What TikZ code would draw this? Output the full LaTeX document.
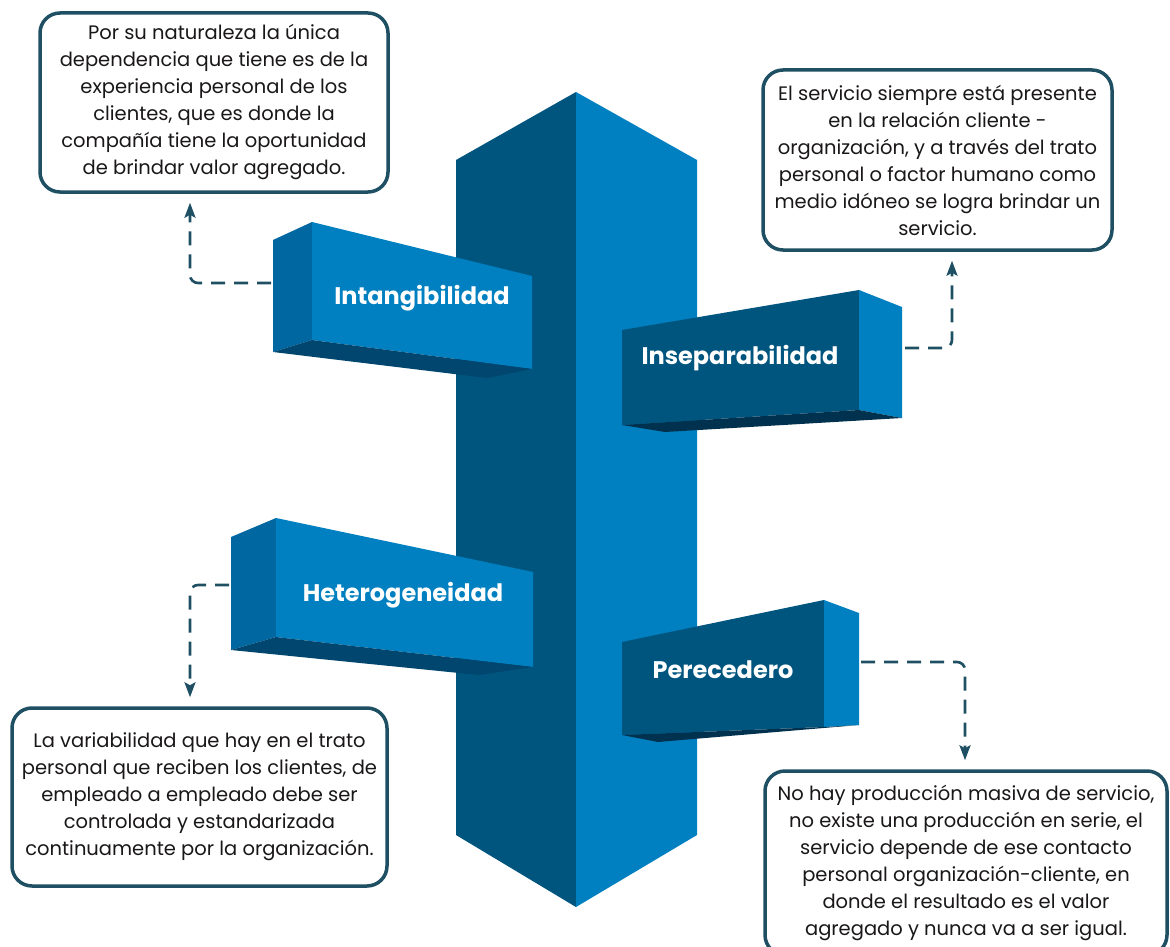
\documentclass[tikz,border=0pt]{standalone}
\usepackage{fontspec}
\setmainfont{Poppins}
\usepackage{tikz}
\usetikzlibrary{arrows.meta}

\definecolor{pilarOsc}{HTML}{00557F}
\definecolor{pilarClaro}{HTML}{0080C0}
\definecolor{ladoMedio}{HTML}{0067A0}
\definecolor{sombra}{HTML}{00466E}
\definecolor{sombraOsc}{HTML}{00324F}
\definecolor{borde}{HTML}{1E4F63}
\definecolor{texto}{HTML}{1A1718}

\begin{document}
\begin{tikzpicture}[x=1pt,y=-1pt,>={Stealth[length=15pt,width=11pt,inset=3pt]}]
\tikzstyle{caja}=[draw=borde,line width=3.5pt,rounded corners=20pt,fill=white,align=center,text=texto,inner sep=0pt,font=\fontsize{19.5}{27}\selectfont]
\tikzstyle{etiqueta}=[text=white,font=\fontsize{24}{28}\selectfont\bfseries]
\tikzstyle{enlace}=[draw=borde,line width=2.6pt,dash pattern=on 14pt off 9pt,rounded corners=8pt,->,shorten >=9pt]

\path[use as bounding box] (0,0) rectangle (1170,947);

% pilar central
\fill[pilarOsc] (456,160) -- (576,92) -- (576,907) -- (456,835) -- cycle;
\fill[pilarClaro] (576,92) -- (697,160) -- (697,835) -- (576,907) -- cycle;

% brazo Intangibilidad
\fill[ladoMedio] (273,240) -- (312,222) -- (312,340) -- (273,352) -- cycle;
\fill[pilarClaro] (312,222) -- (532,276) -- (532,369) -- (312,340) -- cycle;
\fill[sombra] (273,352) -- (312,340) -- (532,369) -- (487,378) -- cycle;

% brazo Inseparabilidad
\fill[pilarOsc] (622,330) -- (859,290) -- (859,410) -- (622,425) -- cycle;
\fill[pilarClaro] (859,290) -- (902,307) -- (902,418) -- (859,410) -- cycle;
\fill[sombraOsc] (622,425) -- (859,410) -- (902,418) -- (665,432) -- cycle;

% brazo Heterogeneidad
\fill[ladoMedio] (231,537) -- (276,518) -- (276,637) -- (231,650) -- cycle;
\fill[pilarClaro] (276,518) -- (533,572) -- (533,667) -- (276,637) -- cycle;
\fill[sombra] (231,650) -- (276,637) -- (533,667) -- (479,675) -- cycle;

% brazo Perecedero
\fill[pilarOsc] (622,642) -- (824,600) -- (824,727) -- (622,735) -- cycle;
\fill[pilarClaro] (824,600) -- (859,613) -- (859,725) -- (824,727) -- cycle;
\fill[sombraOsc] (622,735) -- (824,727) -- (859,725) -- (658,742) -- cycle;

\node[etiqueta] (intang) at (422,298) {Intangibilidad};
\node[etiqueta] (insep)  at (740,358) {Inseparabilidad};
\node[etiqueta] (hetero) at (403,595) {Heterogeneidad};
\node[etiqueta] (perece) at (723,670) {Perecedero};

\coordinate (intIzq) at (271,283);
\coordinate (insDer) at (905,348);
\coordinate (hetIzq) at (229,585);
\coordinate (perDer) at (861,662);

\node[caja,minimum width=348pt,minimum height=179pt] (cajaInt) at (214,102.5)
  {Por su naturaleza la única\\dependencia que tiene es de la\\experiencia personal de los\\clientes, que es donde la\\compañía tiene la oportunidad\\de brindar valor agregado.};
\node[caja,minimum width=349pt,minimum height=180pt] (cajaIns) at (937.5,160)
  {El servicio siempre está presente\\en la relación cliente -\\organización, y a través del trato\\personal o factor humano como\\medio idóneo se logra brindar un\\servicio.};
\node[caja,minimum width=375pt,minimum height=178pt] (cajaHet) at (199.5,797)
  {La variabilidad que hay en el trato\\personal que reciben los clientes, de\\empleado a empleado debe ser\\controlada y estandarizada\\continuamente por la organización.};
\node[caja,minimum width=402pt,minimum height=184pt] (cajaPer) at (966,863)
  {No hay producción masiva de servicio,\\no existe una producción en serie, el\\servicio depende de ese contacto\\personal organización-cliente, en\\donde el resultado es el valor\\agregado y nunca va a ser igual.};

\draw[enlace] (intIzq) -| ([xshift=-24pt]cajaInt.south);
\draw[enlace] (insDer) -| ([xshift=14.5pt]cajaIns.south);
\draw[enlace] (hetIzq) -| ([xshift=-9.5pt]cajaHet.north);
\draw[enlace] (perDer) -| ([xshift=-1pt]cajaPer.north);
\end{tikzpicture}
\end{document}
